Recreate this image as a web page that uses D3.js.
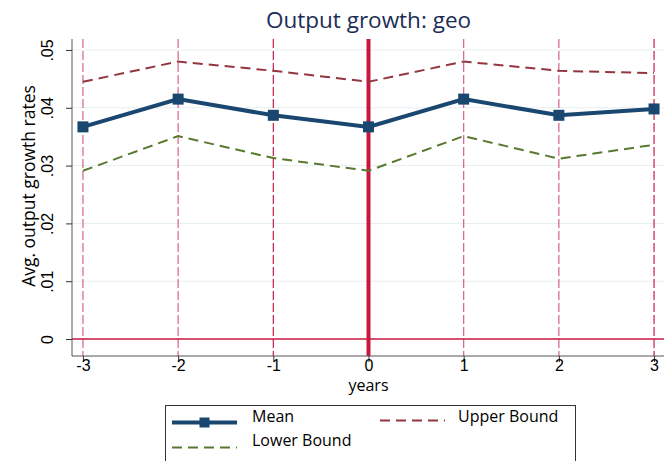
<!DOCTYPE html>
<html>
<head>
<meta charset="utf-8">
<script src="https://cdn.jsdelivr.net/npm/d3@7"></script>
<style>
  body { margin: 0; background: #fff; }
  svg { font-family: "Open Sans", "Noto Sans", sans-serif; }
</style>
</head>
<body>
<div id="chart"></div>
<script>
// data
const years = [-3, -2, -1, 0, 1, 2, 3];
const meanVals = [0.0367, 0.0415, 0.0387, 0.0367, 0.0415, 0.0387, 0.0398];
const upperVals = [0.0445, 0.0480, 0.0464, 0.0445, 0.0480, 0.0464, 0.0460];
const lowerVals = [0.0291, 0.0351, 0.0313, 0.0291, 0.0351, 0.0312, 0.0336];
const yTicks = [0, 0.01, 0.02, 0.03, 0.04, 0.05];
const yTickLabels = ["0", ".01", ".02", ".03", ".04", ".05"];

const width = 664, height = 461;
const margin = {top: 39, right: 0, bottom: 105, left: 72};

const svg = d3.create('svg')
  .attr('width', width)
  .attr('height', height);

const xScale = d3.scaleLinear()
  .domain([-3.115, 3.115])
  .range([margin.left, 665]);

const yScale = d3.scaleLinear()
  .domain([-0.00294, 0.0519])
  .range([height - margin.bottom, margin.top]);

const y0 = yScale.range()[0], y1 = yScale.range()[1];

// gridlines
svg.append('g')
  .selectAll('line')
  .data(yTicks.slice(1))
  .join('line')
  .attr('x1', margin.left)
  .attr('x2', width)
  .attr('y1', d => yScale(d))
  .attr('y2', d => yScale(d))
  .attr('stroke', '#e6eef0')
  .attr('stroke-width', 1);

// vertical reference lines
svg.append('g')
  .selectAll('line')
  .data(years.filter(d => d !== 0))
  .join('line')
  .attr('x1', d => xScale(d))
  .attr('x2', d => xScale(d))
  .attr('y1', y1)
  .attr('y2', y0)
  .attr('stroke', d => (d === -1 || d === 3) ? '#c41e45' : '#d6608a')
  .attr('stroke-width', 1.2)
  .attr('stroke-dasharray', '9,3');

// y = 0 line
svg.append('line')
  .attr('x1', margin.left)
  .attr('x2', width)
  .attr('y1', yScale(0))
  .attr('y2', yScale(0))
  .attr('stroke', '#c8163f')
  .attr('stroke-width', 1.3);

// x = 0 thick line
svg.append('line')
  .attr('x1', xScale(0))
  .attr('x2', xScale(0))
  .attr('y1', y1)
  .attr('y2', y0)
  .attr('stroke', '#c8163f')
  .attr('stroke-width', 4);

const line = d3.line()
  .x((d, i) => xScale(years[i]))
  .y(d => yScale(d));

svg.append('path')
  .datum(upperVals)
  .attr('d', line)
  .attr('fill', 'none')
  .attr('stroke', '#93363f')
  .attr('stroke-width', 2)
  .attr('stroke-dasharray', '10,6');

svg.append('path')
  .datum(lowerVals)
  .attr('d', line)
  .attr('fill', 'none')
  .attr('stroke', '#58792f')
  .attr('stroke-width', 2)
  .attr('stroke-dasharray', '10,6');

svg.append('path')
  .datum(meanVals)
  .attr('d', line)
  .attr('fill', 'none')
  .attr('stroke', '#1a476f')
  .attr('stroke-width', 4);

const ms = 11;
svg.append('g')
  .selectAll('rect')
  .data(meanVals)
  .join('rect')
  .attr('x', (d, i) => xScale(years[i]) - ms / 2)
  .attr('y', d => yScale(d) - ms / 2)
  .attr('width', ms)
  .attr('height', ms)
  .attr('fill', '#1a476f');

// x-axis
const xAxis = svg.append('g')
  .attr('transform', `translate(0, ${y0})`)
  .call(d3.axisBottom(xScale).tickValues(years).tickSize(6).tickSizeOuter(0).tickFormat(d3.format('d')));
xAxis.select('.domain').attr('stroke', '#555');
xAxis.selectAll('.tick line').attr('stroke', '#333');
xAxis.selectAll('.tick text')
  .attr('font-size', 16)
  .attr('fill', '#000')
  .attr('y', 15)
  .attr('dy', null)
  .text(d => d < 0 ? '-' + Math.abs(d) : d);
xAxis.select('.domain').attr('d', `M${margin.left},0H${width}`);

svg.append('text')
  .attr('x', xScale(0))
  .attr('y', 391)
  .attr('text-anchor', 'middle')
  .attr('font-size', 16)
  .text('years');

// y-axis
const yAxis = svg.append('g')
  .attr('transform', `translate(${margin.left}, 0)`)
  .call(d3.axisLeft(yScale).tickValues(yTicks).tickSize(6).tickSizeOuter(0)
    .tickFormat((d, i) => yTickLabels[i]));
yAxis.select('.domain').attr('stroke', '#555').attr('d', `M0,${y1}V${y0}`);
yAxis.selectAll('.tick line').attr('stroke', '#333');
yAxis.selectAll('.tick text')
  .attr('font-size', 16)
  .attr('fill', '#000')
  .attr('x', null)
  .attr('dy', null)
  .attr('text-anchor', 'middle')
  .attr('transform', 'translate(-19, 0) rotate(-90)');

svg.append('text')
  .attr('transform', `translate(35, 186) rotate(-90)`)
  .attr('text-anchor', 'middle')
  .attr('font-size', 17.5)
  .text('Avg. output growth rates');

// title
svg.append('text')
  .attr('x', xScale(0))
  .attr('y', 28)
  .attr('text-anchor', 'middle')
  .attr('font-size', 22.5)
  .attr('fill', '#1c2d55')
  .text('Output growth: geo');

// legend
const lg = svg.append('g');
lg.append('rect')
  .attr('x', 165.5).attr('y', 405.5)
  .attr('width', 410).attr('height', 60)
  .attr('fill', '#fff').attr('stroke', '#333').attr('stroke-width', 1);

const legendItems = [
  {name: 'Mean', color: '#1a476f', w: 4, dash: null, marker: true, x: 172, y: 422.5, tx: 252, ty: 416},
  {name: 'Upper Bound', color: '#93363f', w: 2, dash: '10,6', marker: false, x: 380, y: 420.5, tx: 458, ty: 416},
  {name: 'Lower Bound', color: '#58792f', w: 2, dash: '10,6', marker: false, x: 172, y: 447.5, tx: 252, ty: 440}
];
legendItems.forEach(it => {
  lg.append('line')
    .attr('x1', it.x).attr('x2', it.x + 65)
    .attr('y1', it.y).attr('y2', it.y)
    .attr('stroke', it.color).attr('stroke-width', it.w)
    .attr('stroke-dasharray', it.dash);
  if (it.marker) {
    lg.append('rect')
      .attr('x', it.x + 32.5 - 5).attr('y', it.y - 5)
      .attr('width', 10).attr('height', 10)
      .attr('fill', it.color);
  }
  lg.append('text')
    .attr('x', it.tx).attr('y', it.ty)
    .attr('dy', '0.35em')
    .attr('font-size', 16)
    .text(it.name);
});

document.getElementById('chart').appendChild(svg.node());
</script>
</body>
</html>
